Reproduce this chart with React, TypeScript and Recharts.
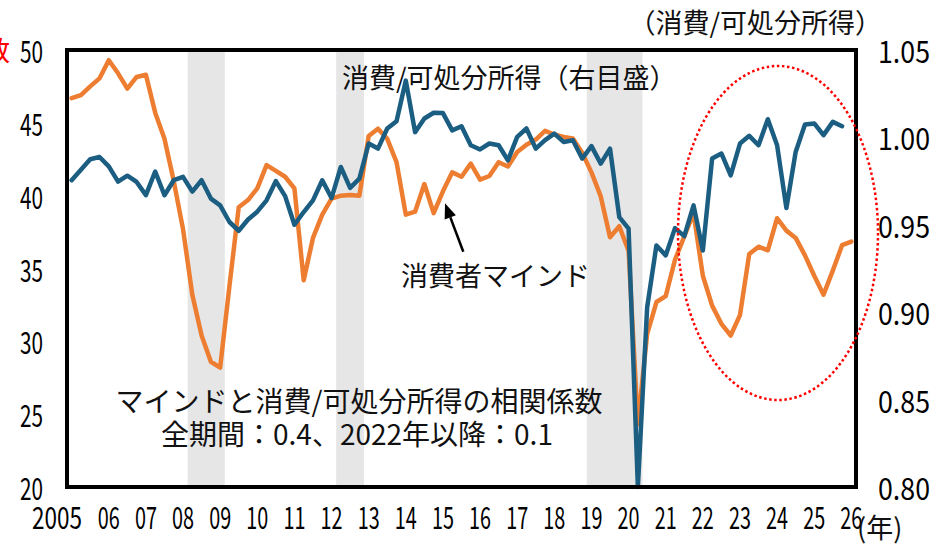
import React from 'react';
import {
  LineChart,
  Line,
  XAxis,
  YAxis,
  ReferenceArea,
  ReferenceLine,
} from 'recharts';

// quarterly, 2005Q1 .. 2026Q1 (consumer confidence, left axis)
const MIND = [
  46.7, 46.9, 47.5, 48.05, 49.3, 48.4, 47.35, 48.15, 48.3, 45.7,
  43.9, 41.0, 37.7, 33.2, 30.4, 28.6, 28.2, 33.8, 39.2, 39.7,
  40.5, 42.1, 41.7, 41.3, 40.5, 34.2, 37.1, 38.7, 39.8, 40.0,
  40.05, 40.0, 44.1, 44.6, 43.9, 42.3, 38.7, 38.9, 40.8, 38.8,
  40.3, 41.6, 41.3, 42.2, 41.1, 41.35, 42.3, 42.0, 43.0, 43.5,
  43.85, 44.45, 44.2, 44.03, 43.93, 42.95, 41.6, 39.95, 37.15, 37.9,
  36.2, 24.3, 30.5, 32.7, 33.1, 35.6, 37.2, 38.8, 34.5, 32.45,
  31.2, 30.4, 31.8, 36.0, 36.5, 36.25, 38.45, 37.6, 37.1, 35.9,
  34.5, 33.2, 34.85, 36.6, 36.85,
];

// quarterly, 2005Q1 .. 2025Q4 (consumption / disposable income, right axis)
const RATIO = [
  0.9755, 0.9815, 0.9875, 0.9888, 0.9834, 0.9747, 0.9781, 0.9745, 0.967, 0.9805,
  0.9669, 0.9755, 0.9774, 0.969, 0.9755, 0.965, 0.9611, 0.9516, 0.9466, 0.953,
  0.9575, 0.964, 0.975, 0.9664, 0.95, 0.9573, 0.964, 0.9755, 0.9653, 0.9831,
  0.9711, 0.9764, 0.9965, 0.9936, 1.0051, 1.0093, 1.0325, 1.003, 1.0108, 1.0141,
  1.0139, 1.004, 1.0064, 0.9955, 0.9931, 0.9965, 0.9955, 0.9869, 1.0003, 1.0051,
  0.9936, 0.9984, 1.0022, 0.9974, 0.9984, 0.9879, 0.995, 0.985, 0.9936, 0.9544,
  0.9478, 0.8, 0.9028, 0.9382, 0.9325, 0.9481, 0.9435, 0.9611, 0.9353, 0.9879,
  0.9908, 0.9783, 0.9965, 1.0009, 0.9955, 1.0104, 0.9955, 0.9596, 0.9917, 1.0074,
  1.008, 1.0013, 1.0089, 1.0064,
];

const YEAR_LABELS = [
  '2005', '06', '07', '08', '09', '10', '11', '12', '13', '14', '15',
  '16', '17', '18', '19', '20', '21', '22', '23', '24', '25', '26',
];
const LEFT_TICKS = [20, 25, 30, 35, 40, 45, 50];
const RIGHT_TICKS = [0.8, 0.85, 0.9, 0.95, 1.0, 1.05];
// recession periods as [first quarter index, last quarter index]
const RECESSIONS = [
  [13, 16],
  [29, 31],
  [56, 61],
];

const ORANGE = '#ED7D31';
const BLUE = '#1B5E82';
const BAND = '#E6E6E6';
const JP = '"Noto Sans CJK JP", "Noto Sans", sans-serif';

const data = MIND.map((m, i) => ({
  q: i,
  mind: m,
  ratio: i < RATIO.length ? RATIO[i] : null,
}));

const renderLeftTick = (props: any) => {
  const { y, payload } = props;
  return (
    <text
      x={43}
      y={y}
      textAnchor="end"
      dominantBaseline="central"
      fontFamily={JP}
      fontSize={30}
      fill="#000"
      textLength={23}
      lengthAdjust="spacingAndGlyphs"
    >
      {String(payload.value)}
    </text>
  );
};

const renderRightTick = (props: any) => {
  const { y, payload } = props;
  return (
    <text
      x={878}
      y={y}
      textAnchor="start"
      dominantBaseline="central"
      fontFamily={JP}
      fontSize={30}
      fill="#000"
      textLength={52}
      lengthAdjust="spacingAndGlyphs"
    >
      {Number(payload.value).toFixed(2)}
    </text>
  );
};

const renderBottomTick = (props: any) => {
  const { x, payload } = props;
  const label = YEAR_LABELS[Math.round(payload.value / 4)];
  if (label === undefined) return <g />;
  const first = label.length === 4;
  return (
    <text
      x={first ? 32 : x}
      y={516}
      textAnchor={first ? 'start' : 'middle'}
      dominantBaseline="central"
      fontFamily={JP}
      fontSize={30}
      fill="#000"
      textLength={first ? 50 : 22}
      lengthAdjust="spacingAndGlyphs"
    >
      {label}
    </text>
  );
};

export default function App() {
  const xTicks = YEAR_LABELS.map((_, k) => k * 4);
  const frame = { stroke: '#000', strokeWidth: 4, strokeLinecap: 'square' as const };

  return (
    <div style={{ position: 'absolute', left: 0, top: 0, width: 950, height: 547, background: '#fff' }}>
      <LineChart
        width={950}
        height={547}
        data={data}
        margin={{ top: 50, right: 0, bottom: 0, left: 0 }}
      >
        <XAxis
          dataKey="q"
          type="number"
          domain={[-0.5, MIND.length - 0.5]}
          ticks={xTicks}
          interval={0}
          height={60}
          tickLine={false}
          axisLine={frame}
          tick={renderBottomTick}
        />
        <YAxis
          yAxisId="left"
          domain={[20, 50]}
          ticks={LEFT_TICKS}
          interval={0}
          width={67}
          tickLine={false}
          axisLine={frame}
          tick={renderLeftTick}
        />
        <YAxis
          yAxisId="right"
          orientation="right"
          domain={[0.8, 1.05]}
          ticks={RIGHT_TICKS}
          interval={0}
          width={94}
          tickLine={false}
          axisLine={frame}
          tick={renderRightTick}
        />
        <ReferenceLine yAxisId="left" y={50} stroke="#000" strokeWidth={4} strokeLinecap="square" />
        {RECESSIONS.map(([a, b], k) => (
          <ReferenceArea
            key={k}
            yAxisId="left"
            x1={a - 0.5}
            x2={b + 0.5}
            y1={20}
            y2={50}
            fill={BAND}
            fillOpacity={1}
            stroke="none"
          />
        ))}
        <Line
          yAxisId="left"
          dataKey="mind"
          type="linear"
          stroke={ORANGE}
          strokeWidth={4.5}
          strokeLinejoin="round"
          strokeLinecap="round"
          dot={false}
          isAnimationActive={false}
        />
        <Line
          yAxisId="right"
          dataKey="ratio"
          type="linear"
          stroke={BLUE}
          strokeWidth={4.5}
          strokeLinejoin="round"
          strokeLinecap="round"
          dot={false}
          connectNulls={false}
          isAnimationActive={false}
        />
      </LineChart>

      <svg
        width={950}
        height={547}
        style={{ position: 'absolute', left: 0, top: 0, pointerEvents: 'none' }}
      >
        <g fontFamily={JP} fontSize={27} fill="#111" dominantBaseline="central">
          <text x={10} y={49} textAnchor="end" fill="#FF0000">指数</text>
          <text x={882} y={21} textAnchor="end">（消費/可処分所得）</text>
          <text x={342} y={76}>消費/可処分所得（右目盛）</text>
          <text x={401} y={274}>消費者マインド</text>
          <text x={359} y={400} textAnchor="middle" fontSize={28}>マインドと消費/可処分所得の相関係数</text>
          <text x={357} y={433} textAnchor="middle" fontSize={28}>全期間：0.4、2022年以降：0.1</text>
          <text x={857} y={526}>(年)</text>
        </g>
        <line x1={463.3} y1={251.7} x2={450.3} y2={217.3} stroke="#000" strokeWidth={2.5} />
        <polygon points="445,203.3 455.9,215.2 444.7,219.4" fill="#000" />
        <ellipse
          cx={778}
          cy={233}
          rx={100}
          ry={167}
          fill="none"
          stroke="#FF0000"
          strokeWidth={2.5}
          strokeDasharray="2.5 2.6"
        />
      </svg>
    </div>
  );
}
